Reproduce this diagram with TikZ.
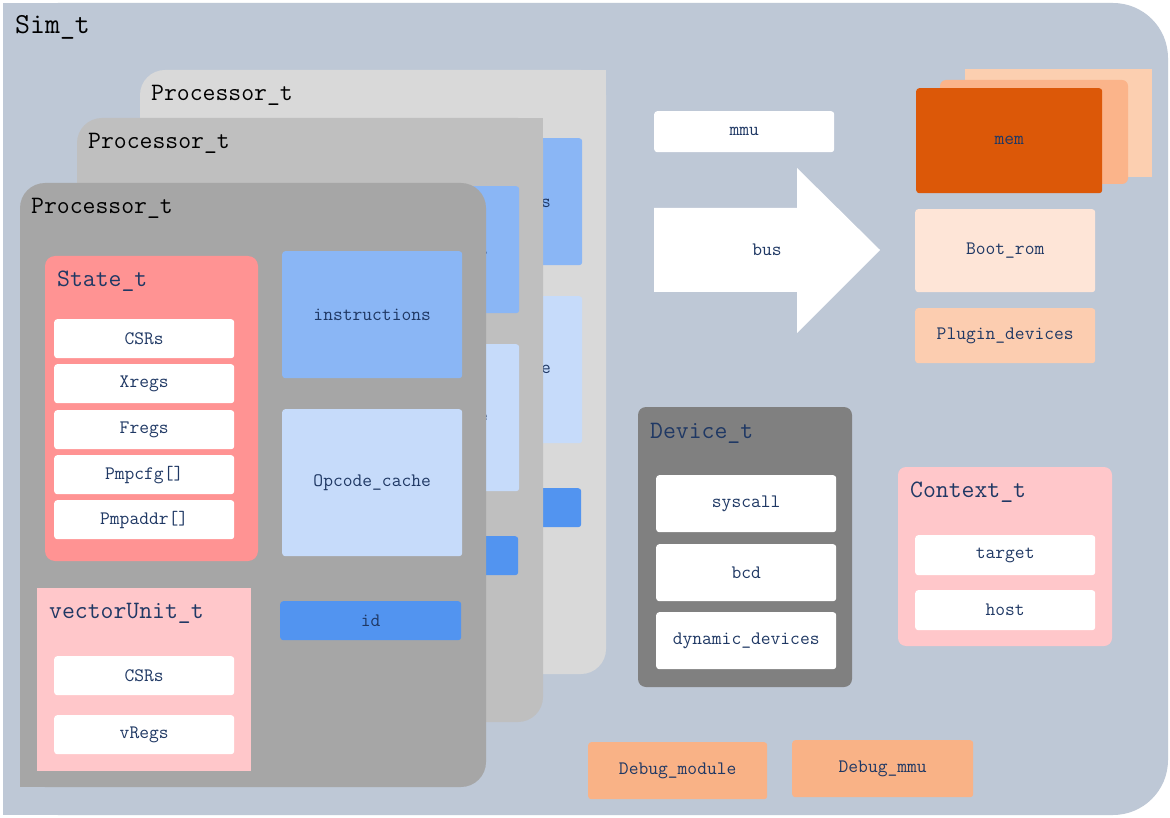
\documentclass[tikz,border=0pt]{standalone}
\definecolor{simbg}{HTML}{BEC8D6}
\definecolor{procA}{HTML}{A6A6A6}
\definecolor{procB}{HTML}{BFBFBF}
\definecolor{procC}{HTML}{D9D9D9}
\definecolor{statec}{HTML}{FF9393}
\definecolor{vecc}{HTML}{FFC7CA}
\definecolor{instrc}{HTML}{8AB6F5}
\definecolor{opcc}{HTML}{C6DBFA}
\definecolor{idc}{HTML}{5294F0}
\definecolor{memA}{HTML}{DC5808}
\definecolor{memB}{HTML}{FBB48A}
\definecolor{memC}{HTML}{FCCFB0}
\definecolor{bootc}{HTML}{FEE5D7}
\definecolor{pluginc}{HTML}{FCCDB0}
\definecolor{devc}{HTML}{808080}
\definecolor{debugc}{HTML}{F9B286}
\definecolor{navy}{HTML}{1F3864}
\begin{document}
\begin{tikzpicture}[x=1pt, y=-1pt,
	title/.style={anchor=west, inner sep=0, font=\ttfamily\fontsize{25}{25}\selectfont},
	part/.style={anchor=north west, inner sep=0, text=navy, rounded corners=3, font=\ttfamily\fontsize{19}{19}\selectfont},
	field/.style={part, fill=white, minimum width=180, minimum height=39}]
	\fill[white] (0,0) rectangle (1170,818);
	\useasboundingbox (0,0) rectangle (1170,818);

	\fill[simbg, rounded corners=55] (3,3) rectangle (1168,815);
	\fill[simbg] (3,3) rectangle (60,60);
	\fill[simbg] (3,760) rectangle (60,815);
	\node[title, font=\ttfamily\fontsize{29}{29}\selectfont] (sim) at (15,27) {Sim\_t};

	\foreach \px/\py/\pc/\ps/\pn in {140/70/procC/30/c, 77/118/procB/30/b, 20/183/procA/0/a} {
		\fill[\pc, rounded corners=25] (\px,\py) rectangle ({\px+466},{\py+604});
		\fill[\pc] ({\px+466-\ps},\py) rectangle ({\px+466},{\py+\ps});
		\fill[\pc] (\px,{\py+574}) rectangle ({\px+30},{\py+604});
		\node[title] (\pn-title) at ({\px+11},{\py+25}) {Processor\_t};
		\node[part, fill=instrc, minimum width=180, minimum height=127] (\pn-instr) at ({\px+262},{\py+68}) {instructions};
		\node[part, fill=opcc, minimum width=180, minimum height=147] (\pn-opc) at ({\px+262},{\py+226}) {Opcode\_cache};
		\node[part, fill=idc, minimum width=181, minimum height=39] (\pn-id) at ({\px+260},{\py+418}) {id};
	}

	\fill[statec, rounded corners=10] (45,256) rectangle (258,561);
	\node[title, text=navy] (state) at (57,281) {State\_t};
	\foreach \y/\n/\t in {319/csrs/CSRs, 364/xregs/Xregs, 410/fregs/Fregs, 455/pmpcfg/Pmpcfg[], 500/pmpaddr/Pmpaddr[]}
		\node[field] (\n) at (54,\y) {\t};

	\fill[vecc] (37,588) rectangle (251,771);
	\node[title, text=navy] (vector) at (49,613) {vectorUnit\_t};
	\node[field] (vcsrs) at (54,656) {CSRs};
	\node[field] (vregs) at (54,715) {vRegs};

	\node[field, minimum height=41] (mmu) at (654,111) {mmu};
	\fill[white] (654,208) -- (797,208) -- (797,168) -- (880,250) -- (797,333) -- (797,292) -- (654,292) -- cycle;
	\node[part, anchor=center] (bus) at (767,250) {bus};

	\fill[memC] (965,69) rectangle (1152,177);
	\fill[memB, rounded corners=6] (940,80) rectangle (1128,184);
	\node[part, fill=memA, minimum width=186, minimum height=105] (mem) at (916,88) {mem};
	\node[part, fill=bootc, minimum width=180, minimum height=83] (bootrom) at (915,209) {Boot\_rom};
	\node[part, fill=pluginc, minimum width=180, minimum height=55] (plugin) at (915,308) {Plugin\_devices};

	\fill[devc, rounded corners=8] (638,407) rectangle (852,687);
	\node[title, text=navy] (device) at (650,433) {Device\_t};
	\foreach \y/\n/\t in {475/syscall/syscall, 544/bcd/bcd, 612/dyn/dynamic\_devices}
		\node[field, minimum height=57] (\n) at (656,\y) {\t};

	\fill[vecc, rounded corners=8] (898,467) rectangle (1112,646);
	\node[title, text=navy] (context) at (910,492) {Context\_t};
	\node[field, minimum height=40] (target) at (915,535) {target};
	\node[field, minimum height=40] (host) at (915,590) {host};

	\node[part, fill=debugc, minimum width=179, minimum height=57] (dbgmod) at (588,742) {Debug\_module};
	\node[part, fill=debugc, minimum width=181, minimum height=57] (dbgmmu) at (792,740) {Debug\_mmu};
\end{tikzpicture}
\end{document}
